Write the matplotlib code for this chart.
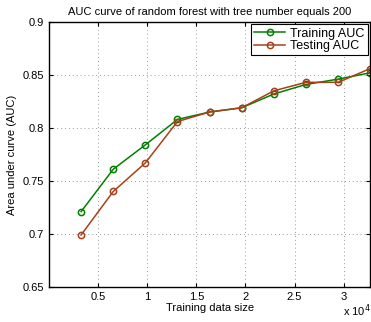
import matplotlib.pyplot as plt

plt.rcParams['font.family'] = ['Liberation Sans', 'DejaVu Sans']

# data
sizes = [3270, 6540, 9810, 13080, 16350, 19620, 22890, 26160, 29430, 32700]
train_auc = [0.721, 0.761, 0.784, 0.808, 0.815, 0.819, 0.832, 0.841, 0.846, 0.852]
test_auc = [0.699, 0.740, 0.767, 0.806, 0.815, 0.819, 0.835, 0.843, 0.843, 0.856]
xticks = [5000, 10000, 15000, 20000, 25000, 30000]
xticklabels = ['0.5', '1', '1.5', '2', '2.5', '3']
yticks = [0.65, 0.7, 0.75, 0.8, 0.85, 0.9]
yticklabels = ['0.65', '0.7', '0.75', '0.8', '0.85', '0.9']

fig = plt.figure(figsize=(3.71, 3.22), dpi=100)
ax = fig.add_axes([0.132, 0.109, 0.866, 0.823])

ax.plot(sizes, train_auc, color='#008000', marker='o', markersize=4.5,
        markerfacecolor='none', markeredgewidth=1.1, linewidth=1.1, label='Training AUC')
ax.plot(sizes, test_auc, color='#a8401a', marker='o', markersize=4.5,
        markerfacecolor='none', markeredgewidth=1.1, linewidth=1.1, label='Testing AUC')

ax.set_xlim(0, 32700)
ax.set_ylim(0.65, 0.9)
ax.set_xticks(xticks)
ax.set_xticklabels(xticklabels)
ax.set_yticks(yticks)
ax.set_yticklabels(yticklabels)
ax.tick_params(direction='in', top=True, right=True, labelsize=8, length=3)
ax.grid(True, linestyle=(0, (1, 3)), color='#999999', linewidth=0.7)
for s in ax.spines.values():
    s.set_linewidth(1.0)

ax.set_title('AUC curve of random forest with tree number equals 200', fontsize=8, pad=5)
ax.set_xlabel('Training data size', fontsize=8, labelpad=1)
ax.set_ylabel('Area under curve (AUC)', fontsize=8)
ax.text(1.0, -0.108, 'x 10$^4$', transform=ax.transAxes, ha='right', va='baseline', fontsize=8)

leg = ax.legend(loc='upper right', fontsize=9, fancybox=False, framealpha=1,
                edgecolor='black', borderpad=0.25, labelspacing=0.05, handlelength=2.5,
                handletextpad=0.4, borderaxespad=0.2)
leg.get_frame().set_linewidth(0.8)

fig.savefig('out.png', dpi=100)
